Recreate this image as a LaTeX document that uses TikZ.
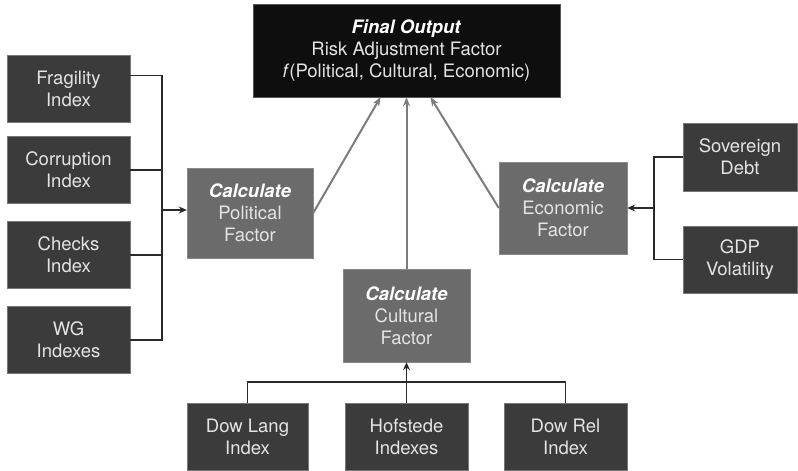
\documentclass[tikz,border=0pt]{standalone}
\usepackage{fontspec}
\setmainfont{TeX Gyre Heros}
\usetikzlibrary{arrows.meta,positioning}

\definecolor{inputgray}{HTML}{3B3B3B}
\definecolor{calcgray}{HTML}{6B6B6B}
\definecolor{outputblack}{HTML}{0E0E0E}
\definecolor{textgray}{HTML}{E4E4E4}
\definecolor{linkgray}{HTML}{7C7C7C}
\definecolor{feedgray}{HTML}{2A2A2A}

\tikzset{
inputbox/.style={
draw=inputgray!70!white,
fill=inputgray,
text=textgray,
align=center,
inner sep=0pt,
minimum width=123pt,
minimum height=67pt
},
calcbox/.style={
draw=calcgray!80!white,
fill=calcgray,
text=textgray,
align=center,
inner sep=0pt,
minimum width=127pt,
minimum height=92pt
},
outputbox/.style={
draw=outputblack!70!white,
fill=outputblack,
text=textgray,
align=center,
inner sep=0pt,
minimum width=307pt,
minimum height=93pt
},
feed/.style={
draw=feedgray,
line width=1.6pt
},
link/.style={
draw=linkgray,
line width=2pt,
-{Stealth[length=9pt,width=7pt]}
}
}

\newcommand{\calc}{\textcolor{white}{\textbf{\textit{Calculate}}}}

\begin{document}
\begin{tikzpicture}[x=1pt,y=-1pt,font=\fontsize{18.5}{22}\selectfont]

\useasboundingbox (0,0) rectangle (798,471);

%%%%%%%%%%%%%%%%%%%%%%%%%%%%%%%%%%%%%%%%%%%%%%%%%%%%%%%%%%%%%%
% FINAL OUTPUT
%%%%%%%%%%%%%%%%%%%%%%%%%%%%%%%%%%%%%%%%%%%%%%%%%%%%%%%%%%%%%%

\node[outputbox](final) at (406.5,50.5)
{\textcolor{white}{\textbf{\textit{Final Output}}}\\
Risk Adjustment Factor\\
\textit{f}(Political, Cultural, Economic)};

%%%%%%%%%%%%%%%%%%%%%%%%%%%%%%%%%%%%%%%%%%%%%%%%%%%%%%%%%%%%%%
% CALCULATE FACTORS
%%%%%%%%%%%%%%%%%%%%%%%%%%%%%%%%%%%%%%%%%%%%%%%%%%%%%%%%%%%%%%

\node[calcbox,minimum width=126pt,minimum height=90pt](political)
at (250,213)
{\calc\\ Political\\ Factor};

\node[calcbox,minimum width=128pt](economic)
at (563,208)
{\calc\\ Economic\\ Factor};

\node[calcbox,minimum height=93pt](cultural)
at (406.5,315.5)
{\calc\\ Cultural\\ Factor};

%%%%%%%%%%%%%%%%%%%%%%%%%%%%%%%%%%%%%%%%%%%%%%%%%%%%%%%%%%%%%%
% POLITICAL INPUTS
%%%%%%%%%%%%%%%%%%%%%%%%%%%%%%%%%%%%%%%%%%%%%%%%%%%%%%%%%%%%%%

\node[inputbox](fragility) at (68.5,88.5) {Fragility\\ Index};
\node[inputbox](corruption) at (68.5,170) {Corruption\\ Index};
\node[inputbox](checks) at (68.5,255) {Checks\\ Index};
\node[inputbox](wg) at (68.5,340) {WG\\ Indexes};

%%%%%%%%%%%%%%%%%%%%%%%%%%%%%%%%%%%%%%%%%%%%%%%%%%%%%%%%%%%%%%
% ECONOMIC INPUTS
%%%%%%%%%%%%%%%%%%%%%%%%%%%%%%%%%%%%%%%%%%%%%%%%%%%%%%%%%%%%%%

\node[inputbox,minimum width=114pt,minimum height=68pt](sovereign)
at (740,157) {Sovereign\\ Debt};
\node[inputbox,minimum width=114pt](gdp)
at (740,259.5) {GDP\\ Volatility};

%%%%%%%%%%%%%%%%%%%%%%%%%%%%%%%%%%%%%%%%%%%%%%%%%%%%%%%%%%%%%%
% CULTURAL INPUTS
%%%%%%%%%%%%%%%%%%%%%%%%%%%%%%%%%%%%%%%%%%%%%%%%%%%%%%%%%%%%%%

\node[inputbox,minimum width=121pt](dowlang)
at (247.5,436.5) {Dow Lang\\ Index};
\node[inputbox](hofstede)
at (406.5,436.5) {Hofstede\\ Indexes};
\node[inputbox](dowrel)
at (565.5,436.5) {Dow Rel\\ Index};

%%%%%%%%%%%%%%%%%%%%%%%%%%%%%%%%%%%%%%%%%%%%%%%%%%%%%%%%%%%%%%
% FEED LINES
%%%%%%%%%%%%%%%%%%%%%%%%%%%%%%%%%%%%%%%%%%%%%%%%%%%%%%%%%%%%%%

\coordinate (polbus) at (162,210);
\coordinate (econbus) at (654,208);
\coordinate (cultbus) at (406.5,382);

\draw[feed] ([yshift=13pt]fragility.east) -| (polbus |- wg.east) -- (wg.east);
\draw[feed] (corruption.east) -- (polbus |- corruption.east);
\draw[feed] (checks.east) -- (polbus |- checks.east);
\draw[feed,-{Stealth[length=8pt,width=7pt]}] (polbus) -- (political.west |- polbus);

\draw[feed] (sovereign.west) -| (econbus |- gdp.west) -- (gdp.west);
\draw[feed,-{Stealth[length=8pt,width=7pt]}] (econbus) -- (economic.east);

\draw[feed] (dowlang.north) |- (cultbus) -| (dowrel.north);
\draw[feed] (hofstede.north) -- (cultbus);
\draw[feed,-{Stealth[length=8pt,width=7pt]}] (cultbus) -- (cultural.south);

%%%%%%%%%%%%%%%%%%%%%%%%%%%%%%%%%%%%%%%%%%%%%%%%%%%%%%%%%%%%%%
% CONNECTIONS
%%%%%%%%%%%%%%%%%%%%%%%%%%%%%%%%%%%%%%%%%%%%%%%%%%%%%%%%%%%%%%

\draw[link] (political.east) -- ([xshift=-26pt]final.south);
\draw[link] (cultural.north) -- (final.south);
\draw[link] (economic.west) -- ([xshift=24pt]final.south);

\end{tikzpicture}
\end{document}
